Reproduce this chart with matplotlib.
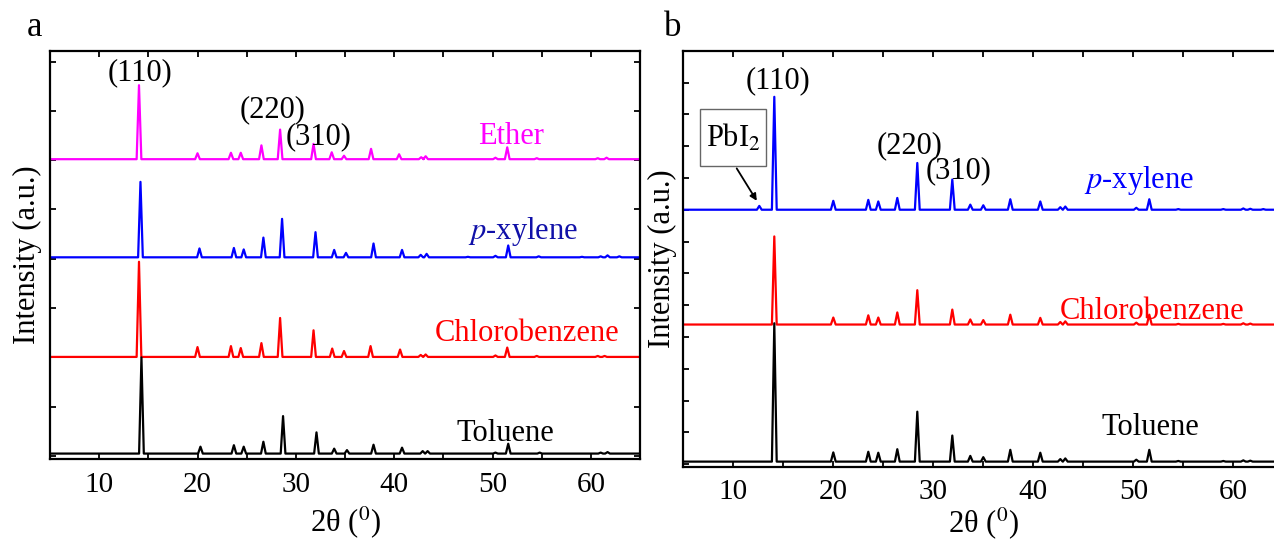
import matplotlib
matplotlib.use('Agg')
import matplotlib.pyplot as plt
from matplotlib.patches import Rectangle
from matplotlib.ticker import MultipleLocator

plt.rcParams['font.family'] = ['Liberation Serif', 'DejaVu Serif']
plt.rcParams['mathtext.fontset'] = 'stix'

# ---- panel a : peak positions (2theta) and heights, baseline offsets ----
a_ether_pos = [14.05, 20.0, 23.4, 24.4, 26.5, 28.4, 31.8, 33.65, 34.9, 37.65, 40.5, 42.75, 43.2, 50.3, 51.5, 54.5, 60.7, 61.6]
a_ether_h = [1.50, 0.12, 0.13, 0.13, 0.28, 0.60, 0.31, 0.14, 0.07, 0.21, 0.10, 0.04, 0.06, 0.03, 0.24, 0.02, 0.02, 0.03]
a_pxyl_pos = [14.2, 20.2, 23.7, 24.7, 26.7, 28.6, 32.0, 33.9, 35.1, 37.9, 40.8, 42.7, 43.3, 47.5, 50.3, 51.6, 54.7, 59.1, 61.0, 61.7, 62.9]
a_pxyl_h = [1.53, 0.18, 0.19, 0.16, 0.40, 0.78, 0.51, 0.15, 0.09, 0.28, 0.15, 0.05, 0.07, 0.01, 0.03, 0.24, 0.02, 0.01, 0.02, 0.04, 0.02]
a_chloro_pos = [14.05, 20.0, 23.4, 24.4, 26.5, 28.4, 31.8, 33.7, 34.9, 37.6, 40.6, 42.7, 43.2, 50.3, 51.5, 54.5, 60.7, 61.4]
a_chloro_h = [1.93, 0.20, 0.22, 0.18, 0.28, 0.79, 0.54, 0.17, 0.12, 0.22, 0.15, 0.04, 0.05, 0.03, 0.19, 0.02, 0.02, 0.02]
a_tol_pos = [14.3, 20.3, 23.7, 24.7, 26.7, 28.7, 32.1, 33.9, 35.2, 37.9, 40.8, 42.9, 43.4, 50.3, 51.6, 54.8, 61.0, 61.7]
a_tol_h = [1.95, 0.14, 0.17, 0.14, 0.24, 0.76, 0.43, 0.10, 0.07, 0.18, 0.12, 0.05, 0.05, 0.02, 0.20, 0.02, 0.02, 0.03]
a_offsets = {'Ether': 6.02, 'p-xylene': 4.03, 'Chlorobenzene': 2.01, 'Toluene': 0.05}

# ---- panel b ----
b_pxyl_pos = [12.6, 14.1, 20.0, 23.5, 24.5, 26.4, 28.4, 31.9, 33.7, 35.0, 37.7, 40.7, 42.7, 43.2, 50.3, 51.6, 54.5, 59.0, 61.0, 61.7, 63.0]
b_pxyl_h = [0.12, 3.55, 0.28, 0.31, 0.26, 0.37, 1.47, 0.95, 0.16, 0.14, 0.33, 0.26, 0.08, 0.10, 0.06, 0.33, 0.02, 0.02, 0.04, 0.03, 0.02]
b_pos = [14.1, 20.0, 23.5, 24.5, 26.4, 28.4, 31.9, 33.7, 35.0, 37.7, 40.7, 42.7, 43.2, 50.3, 51.6, 54.5, 59.0, 61.0, 61.7]
b_chloro_h = [2.77, 0.22, 0.29, 0.22, 0.38, 1.08, 0.47, 0.16, 0.14, 0.31, 0.21, 0.08, 0.10, 0.06, 0.31, 0.02, 0.02, 0.04, 0.03]
b_tol_h = [4.35, 0.29, 0.31, 0.28, 0.39, 1.57, 0.82, 0.18, 0.14, 0.37, 0.28, 0.08, 0.10, 0.06, 0.37, 0.02, 0.02, 0.04, 0.03]
b_offsets = {'p-xylene': 8.0, 'Chlorobenzene': 4.39, 'Toluene': 0.08}

X_START, X_END = 5, 65
HW = 0.24  # half width of each peak


def pattern(pos, h, base):
    # polyline through baseline and peak tops
    xs, ys = [X_START], [base]
    for p, hh in zip(pos, h):
        xs += [p - HW, p, p + HW]
        ys += [base, base + hh, base]
    xs.append(X_END)
    ys.append(base)
    return xs, ys


def style_axes(ax, ymax, ylo):
    ax.set_xlim(5, 65)
    ax.set_ylim(ylo, ymax)
    ax.xaxis.set_major_locator(MultipleLocator(10))
    ax.xaxis.set_minor_locator(MultipleLocator(5))
    ax.yaxis.set_major_locator(MultipleLocator(1))
    ax.tick_params(which='both', direction='in', top=True, right=True, width=1.3, length=4.5)
    ax.tick_params(axis='x', labelsize=21, pad=9)
    ax.tick_params(axis='y', labelleft=False)
    for s in ax.spines.values():
        s.set_linewidth(1.6)


fig = plt.figure(figsize=(12.74, 5.4), dpi=100)
ax1 = fig.add_axes([50 / 1274, 81 / 540, 590 / 1274, 408.3 / 540])
ax2 = fig.add_axes([683.3 / 1274, 73.3 / 540, 600 / 1274, 416 / 540])

lw = 1.6
ax1.plot(*pattern(a_ether_pos, a_ether_h, a_offsets['Ether']), color='#ff00ff', lw=lw)
ax1.plot(*pattern(a_pxyl_pos, a_pxyl_h, a_offsets['p-xylene']), color='#0000ff', lw=lw)
ax1.plot(*pattern(a_chloro_pos, a_chloro_h, a_offsets['Chlorobenzene']), color='#ff0000', lw=lw)
ax1.plot(*pattern(a_tol_pos, a_tol_h, a_offsets['Toluene']), color='black', lw=lw)
style_axes(ax1, 8.22, -0.06)

fs = 22
ax1.text(14.15, 7.77, '(110)', ha='center', va='center', fontsize=fs)
ax1.text(27.68, 7.02, '(220)', ha='center', va='center', fontsize=fs)
ax1.text(32.29, 6.48, '(310)', ha='center', va='center', fontsize=fs)
ax1.text(51.86, 6.48, 'Ether', ha='center', va='center', fontsize=fs, color='#ff00ff')
ax1.text(53.1, 4.55, '$p$-xylene', ha='center', va='center', fontsize=fs, color='#1010a8')
ax1.text(53.5, 2.49, 'Chlorobenzene', ha='center', va='center', fontsize=fs, color='#ff0000')
ax1.text(51.35, 0.46, 'Toluene', ha='center', va='center', fontsize=fs)

ax2.plot(*pattern(b_pxyl_pos, b_pxyl_h, b_offsets['p-xylene']), color='#0000ff', lw=lw)
ax2.plot(*pattern(b_pos, b_chloro_h, b_offsets['Chlorobenzene']), color='#ff0000', lw=lw)
ax2.plot(*pattern(b_pos, b_tol_h, b_offsets['Toluene']), color='black', lw=lw)
style_axes(ax2, 13.0, -0.08)

ax2.text(14.47, 12.06, '(110)', ha='center', va='center', fontsize=fs)
ax2.text(27.62, 10.02, '(220)', ha='center', va='center', fontsize=fs)
ax2.text(32.57, 9.22, '(310)', ha='center', va='center', fontsize=fs)
ax2.text(50.57, 8.92, '$p$-xylene', ha='center', va='center', fontsize=fs, color='#0000ff')
ax2.text(51.92, 4.79, 'Chlorobenzene', ha='center', va='center', fontsize=fs, color='#ff0000')
ax2.text(51.75, 1.14, 'Toluene', ha='center', va='center', fontsize=fs)

# PbI2 label box with arrow to the small impurity peak
ax2.add_patch(Rectangle((6.67, 9.36), 6.6, 1.82, fc='white', ec='#666666', lw=1, zorder=3))
ax2.text(9.97, 10.25, 'PbI$_2$', ha='center', va='center', fontsize=fs, zorder=4)
ax2.annotate('', xy=(12.35, 8.28), xytext=(10.34, 9.3),
             arrowprops=dict(arrowstyle='-|>', color='black', lw=1.3, shrinkA=0, shrinkB=0))

for ax in (ax1, ax2):
    ax.set_xlabel(r'2θ ($^{0}$)', fontsize=22)
    ax.set_ylabel('Intensity (a.u.)', fontsize=22)
ax1.xaxis.set_label_coords(0.5, -0.11)
ax2.xaxis.set_label_coords(0.5, -0.092)
ax1.yaxis.set_label_coords(-0.014, 0.5)
ax2.yaxis.set_label_coords(-0.01, 0.5)

fig.text(34 / 1274, 1 - 27 / 540, 'a', fontsize=25, ha='center', va='center')
fig.text(673 / 1274, 1 - 27 / 540, 'b', fontsize=25, ha='center', va='center')

fig.savefig('out.png', dpi=100)
